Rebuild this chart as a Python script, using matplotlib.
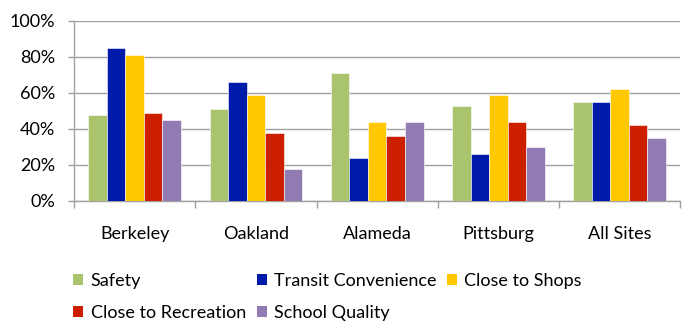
import matplotlib
matplotlib.use("Agg")
import matplotlib.pyplot as plt
import numpy as np
from matplotlib.patches import Patch
from matplotlib.ticker import FixedLocator, PercentFormatter

plt.rcParams['font.family'] = ['Lato', 'DejaVu Sans']

sites = ["Berkeley", "Oakland", "Alameda", "Pittsburg", "All Sites"]
series_names = ["Safety", "Transit Convenience", "Close to Shops", "Close to Recreation", "School Quality"]
safety = [48, 51, 71, 53, 55]
transit = [85, 66, 24, 26, 55]
shops = [81, 59, 44, 59, 62]
recreation = [49, 38, 36, 44, 42]
school = [45, 18, 44, 30, 35]
colors = ["#A9C46C", "#001BAA", "#FFC800", "#CC1F00", "#927BB3"]

series = [safety, transit, shops, recreation, school]

fig = plt.figure(figsize=(6.82, 3.22), dpi=100)
ax = fig.add_axes([0.1085, 0.376, 0.889, 0.559])

x = np.arange(len(sites))
w = 0.153
handles = []
for i, (vals, c, name) in enumerate(zip(series, colors, series_names)):
    ax.bar(x + (i - 2) * w, vals, width=w, color=c, edgecolor='white', linewidth=0.4, zorder=3)
    handles.append(Patch(facecolor=c, label=name))

ax.set_xlim(-0.5, len(sites) - 0.5)
ax.set_ylim(0, 100)
ax.set_yticks(np.arange(0, 101, 20))
ax.yaxis.set_major_formatter(PercentFormatter(decimals=0))
ax.yaxis.grid(True, color='#A0A0A0', linewidth=1.0, zorder=0)
ax.set_xticks(x)
ax.set_xticklabels(sites)
ax.xaxis.set_minor_locator(FixedLocator(np.arange(-0.5, len(sites), 1.0)))
ax.tick_params(axis='x', which='major', length=0, pad=18, labelsize=13, colors='black')
ax.tick_params(axis='x', which='minor', length=5, color='#A0A0A0', width=1)
ax.tick_params(axis='y', length=4.5, color='#A0A0A0', width=1, labelsize=13, pad=9)
for s in ['top', 'right']:
    ax.spines[s].set_visible(False)
for s in ['left', 'bottom']:
    ax.spines[s].set_color('#A0A0A0')
    ax.spines[s].set_linewidth(1)

order = [0, 3, 1, 4, 2]
fig.legend([handles[i] for i in order], [series_names[i] for i in order],
           ncol=3, loc='upper left', bbox_to_anchor=(0.097, 0.175), frameon=False,
           fontsize=13, handlelength=0.55, handleheight=0.55, handletextpad=0.4,
           columnspacing=0.6, labelspacing=0.9, borderaxespad=0)

fig.savefig("out.png", dpi=100)
